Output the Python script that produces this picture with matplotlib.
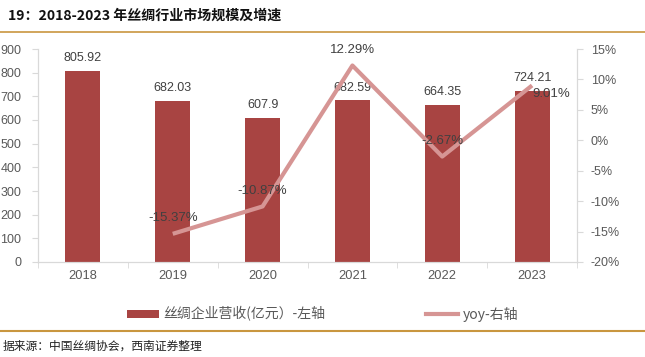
import matplotlib
matplotlib.use("Agg")
import matplotlib.pyplot as plt
from matplotlib.lines import Line2D
from matplotlib.patches import Patch
import numpy as np

plt.rcParams['font.family'] = ['Noto Sans CJK SC', 'DejaVu Sans']

years = ['2018', '2019', '2020', '2021', '2022', '2023']
revenue = [805.92, 682.03, 607.9, 682.59, 664.35, 724.21]
revenue_text = ['805.92', '682.03', '607.9', '682.59', '664.35', '724.21']
yoy_years = ['2019', '2020', '2021', '2022', '2023']
yoy = [-15.37, -10.87, 12.29, -2.67, 9.01]
left_ticks = [0, 100, 200, 300, 400, 500, 600, 700, 800, 900]
right_ticks = [-20, -15, -10, -5, 0, 5, 10, 15]

title = '19：2018-2023 年丝绸行业市场规模及增速'
source = '据来源：中国丝绸协会，西南证券整理'
bar_label = '丝绸企业营收(亿元）-左轴'
line_label = 'yoy-右轴'

bar_color = '#A84442'
line_color = '#D69594'
gray = '#595959'
spine_c = '#D9D9D9'
gold = '#C9963F'
num_font = 'Liberation Sans'

fig = plt.figure(figsize=(6.45, 3.57), dpi=100)
ax = fig.add_axes([38/645, 1-262/357, (577-38)/645, (262-49)/357])
ax2 = ax.twinx()

x = np.arange(len(years))
ax.bar(x, revenue, width=0.39, color=bar_color, zorder=2)
for xi, v, s in zip(x, revenue, revenue_text):
    ax.annotate(s, (xi, v), xytext=(0, 5), textcoords='offset points',
                ha='center', va='bottom', fontsize=9, color='#404040', family=num_font)

xi_yoy = [years.index(y) for y in yoy_years]
ax2.plot(xi_yoy, yoy, color=line_color, lw=3, solid_capstyle='butt', zorder=3)
for i, (xi, v) in enumerate(zip(xi_yoy, yoy)):
    if i == len(yoy) - 1:
        ax2.annotate(f'{v:.2f}%', (xi, v), xytext=(0, -6), textcoords='offset points',
                     ha='left', va='center', fontsize=9.5, color='#404040', family=num_font)
    else:
        ax2.annotate(f'{v:.2f}%', (xi, v), xytext=(0, 7), textcoords='offset points',
                     ha='center', va='bottom', fontsize=9.5, color='#404040', family=num_font)

ax.set_xlim(-0.5, len(years) - 0.5)
ax.set_ylim(0, 900)
ax.set_yticks(left_ticks)
ax.set_xticks(x)
ax.set_xticklabels(years)
ax.set_xticks(np.arange(len(years) + 1) - 0.5, minor=True)
ax.tick_params(axis='x', which='major', length=0, pad=6, labelsize=9.3, labelcolor=gray)
ax.tick_params(axis='x', which='minor', length=4, color=spine_c)
ax.tick_params(axis='y', length=4, color=spine_c, labelsize=9, labelcolor=gray, pad=8)
for t in ax.get_xticklabels() + ax.get_yticklabels():
    t.set_family(num_font)

ax2.set_ylim(-20, 15)
ax2.set_yticks(right_ticks)
ax2.set_yticklabels([f'{t}%' for t in right_ticks], family=num_font)
ax2.tick_params(axis='y', length=4, color=spine_c, labelsize=9, labelcolor=gray, pad=6)

for a in (ax, ax2):
    a.spines['top'].set_visible(False)
    for s in ('left', 'right', 'bottom'):
        a.spines[s].set_color(spine_c)
        a.spines[s].set_linewidth(0.8)

handles = [Patch(facecolor=bar_color, label=bar_label),
           Line2D([0], [0], color=line_color, lw=3, label=line_label)]
fig.legend(handles=handles, loc='center', bbox_to_anchor=(0.5, 1-314/357), ncol=2,
           frameon=False, fontsize=10, labelcolor=gray, columnspacing=7.3,
           handlelength=2.3, handleheight=0.5, handletextpad=0.3)

fig.text(8/645, 1-16/357, title, fontsize=10.1, fontweight='bold', ha='left', va='center', color='#111111')
fig.add_artist(Line2D([0, 1], [1-32/357, 1-32/357], color=gold, lw=1.2, transform=fig.transFigure))
fig.add_artist(Line2D([0, 1], [1-331/357, 1-331/357], color=gold, lw=1.5, transform=fig.transFigure))
fig.text(3/645, 1-346/357, source, fontsize=8.5, style='italic', ha='left', va='center', color='#222222')

fig.savefig('out.png', dpi=100)
